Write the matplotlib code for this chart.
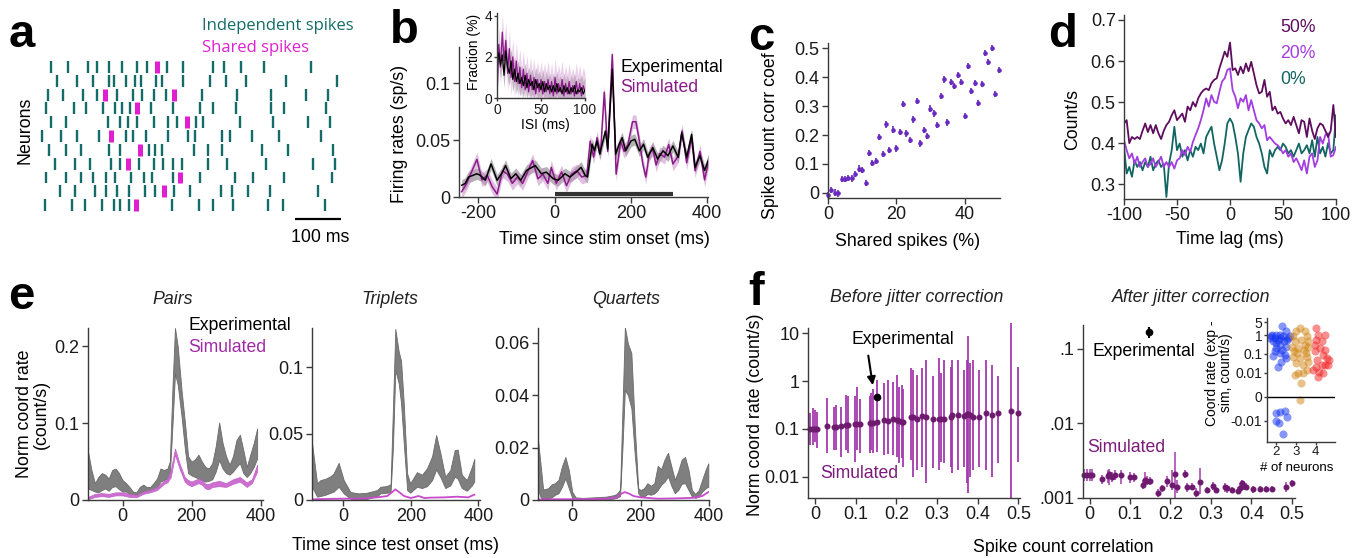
import matplotlib
matplotlib.use("Agg")
import matplotlib.pyplot as plt
import numpy as np

W, H = 1366, 558

TEAL = "#136c67"
MAGENTA = "#e020d0"
PURPLE_B = "#8b1a89"
PURPLE_C = "#6a2ac0"
PURPLE_F = "#6e1a6e"
GRAY = "#7f7f7f"

# ---------------- panel a: raster, spike times (ms) per neuron ----------------
A_INDEPENDENT = [
    [14, 49, 93, 114, 138, 167, 199, 221, 266, 299, 366, 389, 426, 475, 578],
    [25, 69, 104, 138, 150, 176, 196, 209, 241, 254, 299, 359, 393, 437, 523, 634],
    [6, 40, 83, 114, 156, 191, 210, 236, 264, 341, 417, 491, 567, 614],
    [2, 62, 89, 127, 152, 167, 185, 230, 278, 336, 366, 415, 491, 520, 611],
    [13, 46, 136, 162, 180, 199, 236, 267, 286, 328, 344, 424, 496, 572, 620],
    [-7, 35, 70, 117, 176, 192, 219, 267, 310, 325, 384, 402, 449, 509, 600],
    [9, 46, 78, 138, 163, 225, 239, 255, 324, 355, 384, 471, 529, 627],
    [22, 65, 98, 143, 163, 205, 236, 256, 279, 297, 355, 395, 480, 583, 630],
    [2, 46, 78, 105, 133, 152, 187, 215, 232, 279, 337, 413, 453, 520, 623],
    [33, 65, 109, 133, 156, 183, 217, 239, 281, 315, 383, 406, 442, 489, 594],
    [0, 58, 87, 123, 149, 164, 183, 275, 335, 366, 409, 484, 518, 609],
]
A_SHARED = [[243], [], [130, 280], [201], [308], [143], [207], [181], [293], [259], [197]]
A_SCALE_START = 543
A_SCALE_MS = 100

# ---------------- panel b: firing rates ----------------
B_EXP_T = [-244, -235, -226, -204, -195, -182, -167, -151, -137, -129,
           -115, -102, -89, -74, -51, -35, -22, -4, 9, 27,
           40, 56, 69, 80, 86, 98, 104, 111, 118, 133,
           139, 151, 160, 169, 177, 186, 200, 210, 222, 233,
           244, 257, 270, 284, 297, 310, 324, 333, 346, 359,
           368, 381, 393, 404]
B_EXP = [0.0103, 0.0118, 0.0175, 0.0204, 0.019, 0.0147, 0.029, 0.0147, 0.0218, 0.0276,
         0.0161, 0.0204, 0.0147, 0.0233, 0.0276, 0.0204, 0.0218, 0.0161, 0.0147, 0.0204,
         0.0175, 0.0218, 0.0261, 0.019, 0.0175, 0.0463, 0.0405, 0.0491, 0.0376, 0.0578,
         0.042, 0.112, 0.0376, 0.0463, 0.052, 0.0405, 0.0491, 0.0506, 0.0405, 0.0463,
         0.0348, 0.0434, 0.0333, 0.0405, 0.0362, 0.0448, 0.0348, 0.0563, 0.0348, 0.0549,
         0.0261, 0.0362, 0.0233, 0.0333]
B_EXP_SEM = 0.005
B_SIM_T = [-244, -231, -204, -191, -177, -164, -151, -137, -124, -111,
           -98, -84, -71, -58, -44, -31, -18, -9, 4, 18,
           31, 44, 58, 71, 84, 93, 102, 111, 120, 130,
           139, 151, 161, 173, 182, 192, 204, 213, 222, 231,
           239, 248, 257, 266, 275, 288, 299, 310, 324, 334,
           346, 359, 368, 381, 393, 404]
B_SIM = [0.0046, 0.012, 0.033, 0.015, 0.019, 0.009, 0.0026, 0.023, 0.020, 0.012,
         0.0175, 0.012, 0.022, 0.032, 0.016, 0.020, 0.012, 0.026, 0.012, 0.022,
         0.010, 0.020, 0.023, 0.0175, 0.019, 0.049, 0.035, 0.052, 0.038, 0.092,
         0.040, 0.125, 0.020, 0.049, 0.040, 0.046, 0.066, 0.066, 0.049, 0.029,
         0.0175, 0.038, 0.042, 0.028, 0.038, 0.035, 0.046, 0.029, 0.036, 0.058,
         0.030, 0.052, 0.023, 0.040, 0.015, 0.032]
B_SIM_SEM = 0.006
B_STIM_BAR = (0, 310)

# inset: ISI distribution (%)
ISI_T = np.arange(0, 101, 2)
ISI_EXP = [1.4, 2.2, 1.6, 2.1, 1.1, 2.3, 1.5, 1.2, 1.8, 0.9, 1.4, 0.8, 1.2, 0.7, 1.0, 0.6, 1.1,
           0.5, 0.9, 0.6, 0.8, 0.4, 0.9, 0.5, 0.7, 0.4, 0.8, 0.3, 0.7, 0.4, 0.6, 0.3, 0.6, 0.3,
           0.7, 0.3, 0.5, 0.2, 0.6, 0.3, 0.5, 0.2, 0.5, 0.3, 0.6, 0.2, 0.4, 0.3, 0.5, 0.2, 0.4]
ISI_SIM = [0.0, 2.6, 1.5, 3.2, 1.8, 2.8, 1.2, 2.4, 1.0, 2.0, 0.8, 1.8, 0.7, 1.5, 0.5, 1.4, 0.4,
           1.2, 0.3, 1.1, 0.4, 1.0, 0.2, 0.9, 0.3, 0.9, 0.2, 0.8, 0.3, 0.9, 0.2, 0.8, 0.1, 1.0,
           0.2, 0.7, 0.3, 0.9, 0.1, 0.7, 0.2, 0.8, 0.2, 0.6, 0.1, 0.8, 0.2, 0.7, 0.1, 0.6, 0.3]
ISI_EXP_SEM = 0.6
ISI_SIM_SEM = 0.9

# ---------------- panel c: corr coef vs shared spikes ----------------
C_SHARED = np.arange(0, 51)
C_CORR = [-0.008, 0.009, 0.001, -0.002, 0.047, 0.047, 0.052, 0.05, 0.065, 0.084,
          0.079, 0.035, 0.139, 0.104, 0.111, 0.194, 0.134, 0.237, 0.148, 0.219,
          0.154, 0.211, 0.307, 0.206, 0.182, 0.254, 0.318, 0.171, 0.217, 0.196,
          0.292, 0.275, 0.234, 0.336, 0.393, 0.244, 0.385, 0.370, 0.408, 0.385,
          0.266, 0.439, 0.353, 0.381, 0.312, 0.376, 0.485, 0.454, 0.502, 0.342, 0.425]
C_ERR = 0.011

# ---------------- panel d: cross-correlograms ----------------
D_LAG = np.arange(-100, 100.1, 2.5)
D_50 = [0.448, 0.456, 0.40, 0.415, 0.41, 0.415, 0.41, 0.43, 0.448, 0.427,
        0.444, 0.424, 0.444, 0.424, 0.41, 0.43, 0.444, 0.452, 0.468, 0.48,
        0.456, 0.464, 0.472, 0.452, 0.489, 0.48, 0.50, 0.489, 0.509, 0.521,
        0.529, 0.533, 0.529, 0.546, 0.554, 0.558, 0.582, 0.602, 0.623, 0.61,
        0.645, 0.578, 0.582, 0.566, 0.586, 0.57, 0.594, 0.575, 0.598, 0.57,
        0.541, 0.521, 0.525, 0.554, 0.513, 0.525, 0.48, 0.489, 0.472, 0.476,
        0.46, 0.448, 0.456, 0.444, 0.464, 0.444, 0.424, 0.456, 0.452, 0.415,
        0.46, 0.43, 0.41, 0.436, 0.448, 0.444, 0.43, 0.415, 0.43, 0.493, 0.415]
D_20 = [0.407, 0.383, 0.363, 0.375, 0.35, 0.367, 0.342, 0.354, 0.363, 0.342,
        0.35, 0.363, 0.342, 0.354, 0.367, 0.342, 0.354, 0.342, 0.354, 0.338,
        0.358, 0.363, 0.383, 0.371, 0.391, 0.379, 0.403, 0.42, 0.436, 0.456,
        0.48, 0.509, 0.489, 0.517, 0.501, 0.497, 0.525, 0.55, 0.558, 0.578,
        0.582, 0.529, 0.513, 0.485, 0.509, 0.501, 0.517, 0.48, 0.505, 0.48,
        0.456, 0.448, 0.436, 0.444, 0.407, 0.415, 0.407, 0.399, 0.395, 0.387,
        0.375, 0.383, 0.367, 0.375, 0.354, 0.363, 0.35, 0.334, 0.358, 0.326,
        0.367, 0.375, 0.342, 0.358, 0.415, 0.399, 0.42, 0.424, 0.367, 0.371, 0.391]
D_0 = [0.39, 0.326, 0.342, 0.318, 0.358, 0.342, 0.354, 0.334, 0.354, 0.342,
       0.367, 0.334, 0.35, 0.358, 0.342, 0.35, 0.269, 0.35, 0.383, 0.44,
       0.383, 0.399, 0.367, 0.383, 0.358, 0.383, 0.367, 0.391, 0.383, 0.399,
       0.375, 0.415, 0.428, 0.44, 0.399, 0.367, 0.334, 0.358, 0.399, 0.448,
       0.46, 0.448, 0.415, 0.375, 0.306, 0.375, 0.415, 0.432, 0.448, 0.44,
       0.415, 0.399, 0.375, 0.342, 0.326, 0.383, 0.367, 0.383, 0.391, 0.383,
       0.399, 0.391, 0.375, 0.383, 0.367, 0.383, 0.399, 0.375, 0.383, 0.395,
       0.375, 0.407, 0.367, 0.415, 0.375, 0.391, 0.367, 0.40, 0.375, 0.383, 0.468]
D_LABELS = ["50%", "20%", "0%"]
D_COLORS = ["#5e0c5e", "#a23ddf", "#126662"]

# ---------------- panel e: coordinated firing ----------------
E_PAIR_T = [-100, -90, -80, -70, -60, -50, -40, -30, -20, -10, 0, 10, 20, 30, 40, 50, 60, 70, 80,
            90, 100, 110, 120, 130, 137, 145, 152, 160, 171, 181, 190, 200, 210, 220, 230, 240,
            250, 260, 270, 280, 290, 300, 310, 320, 330, 340, 350, 360, 370, 380, 390]
E_PAIR_HI = [0.063, 0.039, 0.022, 0.030, 0.035, 0.033, 0.028, 0.039, 0.041, 0.035, 0.026, 0.022,
             0.017, 0.011, 0.010, 0.017, 0.020, 0.017, 0.017, 0.022, 0.028, 0.041, 0.039, 0.041,
             0.050, 0.150, 0.224, 0.200, 0.143, 0.100, 0.057, 0.050, 0.053, 0.059, 0.050, 0.043,
             0.041, 0.048, 0.070, 0.101, 0.074, 0.057, 0.046, 0.057, 0.078, 0.085, 0.065, 0.043,
             0.059, 0.074, 0.093]
E_PAIR_LO = [0.015, 0.013, 0.011, 0.010, 0.013, 0.015, 0.012, 0.017, 0.018, 0.014, 0.011, 0.011,
             0.008, 0.006, 0.006, 0.008, 0.011, 0.011, 0.012, 0.014, 0.017, 0.024, 0.026, 0.028,
             0.032, 0.100, 0.165, 0.150, 0.109, 0.065, 0.035, 0.032, 0.030, 0.028, 0.026, 0.024,
             0.025, 0.027, 0.037, 0.052, 0.041, 0.035, 0.033, 0.037, 0.043, 0.048, 0.035, 0.030,
             0.035, 0.043, 0.054]
E_PAIR_SIM_T = [-100, -80, -60, -40, -20, 0, 20, 40, 60, 80, 100, 120, 130, 140, 152, 165, 180,
                190, 200, 210, 220, 230, 240, 250, 260, 280, 300, 320, 340, 360, 375, 390]
E_PAIR_SIM_HI = [0.004, 0.008, 0.009, 0.008, 0.010, 0.010, 0.008, 0.0065, 0.011, 0.013, 0.017,
                 0.025, 0.027, 0.039, 0.067, 0.048, 0.030, 0.026, 0.024, 0.026, 0.028, 0.026,
                 0.021, 0.021, 0.023, 0.025, 0.022, 0.027, 0.030, 0.023, 0.027, 0.046]
E_PAIR_SIM_LO = [0.001, 0.004, 0.005, 0.004, 0.006, 0.006, 0.004, 0.0035, 0.008, 0.010, 0.013,
                 0.021, 0.023, 0.030, 0.059, 0.041, 0.024, 0.020, 0.018, 0.020, 0.022, 0.020,
                 0.015, 0.014, 0.017, 0.018, 0.017, 0.021, 0.024, 0.017, 0.022, 0.037]

E_TRIP_T = [-93, -78, -68, -53, -38, -29, -14, 1, 21, 45, 70, 100, 110, 129, 140, 147, 154, 164,
            171, 179, 189, 198, 218, 233, 248, 263, 275, 287, 302, 317, 330, 339, 351, 366, 381, 388]
E_TRIP_HI = [0.043, 0.0126, 0.015, 0.016, 0.018, 0.020, 0.028, 0.015, 0.006, 0.005, 0.0055,
             0.0075, 0.010, 0.0105, 0.012, 0.070, 0.129, 0.112, 0.105, 0.073, 0.020, 0.0126,
             0.021, 0.019, 0.024, 0.033, 0.049, 0.036, 0.0176, 0.0226, 0.0377, 0.038, 0.019,
             0.015, 0.025, 0.031]
E_TRIP_LO = [0.010, 0.0025, 0.003, 0.004, 0.0055, 0.0063, 0.010, 0.005, 0.001, 0.0005, 0.0008,
             0.003, 0.005, 0.0055, 0.006, 0.040, 0.098, 0.088, 0.073, 0.043, 0.0075, 0.0055,
             0.010, 0.009, 0.0105, 0.015, 0.023, 0.0176, 0.009, 0.011, 0.0176, 0.016, 0.009,
             0.007, 0.011, 0.014]
E_TRIP_SIM_T = [-93, -50, 0, 50, 100, 130, 145, 154, 165, 180, 200, 223, 240, 260, 300, 337, 370, 388]
E_TRIP_SIM = [0.0005, 0.0008, 0.001, 0.001, 0.002, 0.003, 0.006, 0.008, 0.006, 0.003, 0.0015,
              0.003, 0.0015, 0.0018, 0.002, 0.0025, 0.002, 0.004]

E_QUAR_T = [-100, -92, -85, -70, -60, -50, -40, -30, -20, -10, 0, 10, 30, 60, 100, 120, 130, 140,
            147, 154, 163, 173, 183, 193, 200, 210, 220, 230, 240, 250, 260, 270, 280, 290, 300,
            310, 320, 330, 340, 350, 360, 370, 380, 390, 398]
E_QUAR_HI = [0.023, 0.013, 0.004, 0.0045, 0.006, 0.0064, 0.0077, 0.0128, 0.0164, 0.0115, 0.0032,
             0.001, 0.0008, 0.001, 0.0013, 0.0018, 0.0023, 0.004, 0.035, 0.066, 0.0596, 0.056,
             0.028, 0.0045, 0.0038, 0.0045, 0.0064, 0.0054, 0.0064, 0.013, 0.0118, 0.0154, 0.018,
             0.0128, 0.0077, 0.011, 0.0154, 0.0164, 0.0115, 0.0038, 0.0023, 0.0038, 0.0077,
             0.0115, 0.014]
E_QUAR_LO = [0.004, 0.001, 0.0005, 0.0006, 0.001, 0.002, 0.0026, 0.005, 0.0083, 0.0045, 0.0008,
             0.0003, 0.0002, 0.0002, 0.0003, 0.0005, 0.0008, 0.0015, 0.020, 0.042, 0.040, 0.035,
             0.017, 0.0026, 0.0013, 0.0013, 0.0023, 0.002, 0.0025, 0.0038, 0.0058, 0.007, 0.009,
             0.0054, 0.0026, 0.0038, 0.0062, 0.0064, 0.0038, 0.0013, 0.0008, 0.0013, 0.0032,
             0.0045, 0.005]
E_QUAR_SIM_T = [-100, -50, 0, 50, 100, 130, 145, 154, 165, 180, 200, 250, 300, 350, 380, 398]
E_QUAR_SIM = [0.0002, 0.0003, 0.0003, 0.0003, 0.0005, 0.001, 0.0025, 0.003, 0.0025, 0.0015,
              0.001, 0.0005, 0.0006, 0.0008, 0.0015, 0.003]

# ---------------- panel f: coordination vs correlation ----------------
F_BEFORE_X = [-0.012, -0.006, 0.0, 0.006, 0.030, 0.047, 0.051, 0.063, 0.076, 0.082, 0.098, 0.104,
              0.111, 0.134, 0.138, 0.143, 0.152, 0.170, 0.180, 0.191, 0.202, 0.207, 0.213, 0.217,
              0.235, 0.240, 0.252, 0.262, 0.273, 0.289, 0.305, 0.310, 0.316, 0.334, 0.338, 0.352,
              0.367, 0.373, 0.377, 0.381, 0.389, 0.404, 0.42, 0.434, 0.449, 0.482, 0.5]
F_BEFORE_Y = [0.1, 0.1, 0.1, 0.1, 0.117, 0.112, 0.112, 0.117, 0.121, 0.121, 0.127, 0.127, 0.127,
              0.131, 0.131, 0.136, 0.138, 0.154, 0.149, 0.159, 0.154, 0.147, 0.142, 0.142, 0.176,
              0.176, 0.159, 0.19, 0.181, 0.162, 0.162, 0.162, 0.162, 0.176, 0.196, 0.196, 0.19,
              0.203, 0.203, 0.196, 0.181, 0.181, 0.22, 0.196, 0.213, 0.238, 0.213]
F_BEFORE_HI = [0.213, 0.271, 0.25, 0.231, 0.439, 0.293, 0.318, 0.293, 0.515, 0.49, 0.49, 0.745,
               0.418, 0.49, 0.559, 0.676, 1.06, 0.90, 1.06, 0.98, 1.35, 0.77, 0.83, 0.676, 1.86,
               1.72, 1.35, 1.86, 2.78, 1.25, 3.0, 1.46, 2.78, 2.0, 2.78, 2.78, 1.72, 2.78, 8.6,
               2.36, 2.78, 1.72, 2.78, 2.17, 1.25, 16.2, 2.0]
F_BEFORE_LO = [0.0463, 0.0463, 0.0543, 0.0394, 0.031, 0.0364, 0.0364, 0.0264, 0.0364, 0.032,
               0.0207, 0.0364, 0.031, 0.032, 0.0364, 0.031, 0.0335, 0.0286, 0.030, 0.0286, 0.0264,
               0.0191, 0.0243, 0.0163, 0.0224, 0.0101, 0.0139, 0.0163, 0.0073, 0.015, 0.0139,
               0.0207, 0.0191, 0.0163, 0.0118, 0.0139, 0.0163, 0.0073, 0.0045, 0.0101, 0.0139,
               0.0163, 0.0139, 0.0101, 0.0191, 0.0035, 0.0207]
F_BEFORE_EXP = (0.152, 0.475, 0.42, 0.54)

F_AFTER_X = [-0.013, -0.007, 0.0, 0.006, 0.030, 0.045, 0.049, 0.055, 0.063, 0.078, 0.099, 0.110,
             0.132, 0.137, 0.143, 0.150, 0.170, 0.179, 0.191, 0.203, 0.212, 0.217, 0.236, 0.240,
             0.253, 0.263, 0.272, 0.290, 0.306, 0.313, 0.335, 0.339, 0.351, 0.368, 0.372, 0.376,
             0.382, 0.388, 0.405, 0.421, 0.436, 0.452, 0.486, 0.501]
F_AFTER_Y = [0.00202, 0.00202, 0.00202, 0.00202, 0.00176, 0.00195, 0.00208, 0.00192, 0.00202,
             0.00202, 0.00188, 0.00188, 0.00148, 0.00173, 0.00169, 0.00169, 0.00114, 0.00134,
             0.00169, 0.00148, 0.00208, 0.00141, 0.00208, 0.00141, 0.00141, 0.00117, 0.00164,
             0.00127, 0.00143, 0.00127, 0.00138, 0.00134, 0.00127, 0.00124, 0.00134, 0.00159,
             0.00143, 0.00141, 0.00129, 0.00132, 0.00132, 0.00132, 0.00138, 0.00159]
F_AFTER_HI = [0.0024, 0.0024, 0.0024, 0.0024, 0.00202, 0.00236, 0.0024, 0.00224, 0.00236,
              0.00236, 0.00224, 0.00217, 0.00173, 0.00224, 0.00195, 0.00192, 0.00129, 0.00148,
              0.00195, 0.00236, 0.00416, 0.00173, 0.00236, 0.00159, 0.00159, 0.00134, 0.00248,
              0.00141, 0.00164, 0.00141, 0.00159, 0.00148, 0.00141, 0.00141, 0.00159, 0.00173,
              0.00164, 0.00159, 0.00143, 0.00143, 0.00143, 0.00143, 0.00161, 0.00173]
F_AFTER_LO = [0.00169, 0.00169, 0.00169, 0.00169, 0.00153, 0.00159, 0.00148, 0.00164, 0.00173,
              0.00153, 0.00159, 0.00164, 0.00129, 0.00148, 0.00148, 0.00148, 0.00103, 0.0012,
              0.00141, 0.00127, 0.001, 0.00114, 0.00182, 0.0012, 0.00129, 0.00103, 0.00112,
              0.00114, 0.00127, 0.00114, 0.0012, 0.00117, 0.00114, 0.00112, 0.00117, 0.00138,
              0.00127, 0.00127, 0.00117, 0.00119, 0.00119, 0.00119, 0.00119, 0.00138]
F_AFTER_EXP = (0.148, 0.171, 0.139, 0.2)

# inset: exp - sim coordination per group size
F_IN_BLUE_X = [1.75, 1.92, 2.0, 2.17, 2.31, 2.47, 1.83, 2.08, 2.2, 2.37, 2.59, 1.66, 1.97, 2.31,
               2.51, 1.83, 2.17, 2.47, 2.08, 2.25, 2.56, 2.0, 1.92, 2.42, 2.68, 1.8, 2.34, 2.17,
               2.0, 2.17, 2.42, 1.97, 2.14, 2.34, 2.54]
F_IN_BLUE_Y = [0.88, 0.72, 1.09, 1.09, 3.3, 1.64, 0.47, 0.54, 0.31, 0.47, 0.72, 0.72, 0.21, 0.17,
               0.25, 0.079, 0.11, 0.06, 0.021, 0.039, 0.58, 0.39, 0.14, 0.09, 0.88, 1.09, 0.88,
               0.72, -0.0069, -0.0063, -0.0058, -0.010, -0.0128, -0.048, -0.0083]
F_IN_ORANGE_X = [2.85, 3.02, 3.19, 3.44, 2.93, 3.27, 3.53, 3.61, 2.81, 3.1, 3.39, 2.85, 3.19, 3.53,
                 2.98, 3.36, 3.61, 2.93, 3.1, 3.36, 3.53, 3.27, 3.19, 3.44, 3.05, 2.88, 3.49, 3.61]
F_IN_ORANGE_Y = [0.88, 1.64, 2.5, 1.64, 0.47, 0.58, 0.88, 0.47, 0.25, 0.21, 0.17, 0.073, 0.06,
                 0.067, 0.032, 0.026, 0.039, 0.009, 0.0097, 0.0097, 0.014, 0.0056, -0.0014, 0.31,
                 0.11, 0.14, 0.11, 0.25]
F_IN_RED_X = [4.03, 4.12, 4.0, 4.2, 4.29, 4.46, 3.95, 4.37, 4.54, 4.68, 4.07, 4.29, 4.03, 3.86,
              4.17, 4.46, 4.37, 4.12, 4.63, 3.95, 4.46]
F_IN_RED_Y = [2.5, 1.09, 0.58, 0.21, 0.47, 0.17, 0.14, 0.09, 0.06, 0.048, 0.048, 0.026, 0.021,
              0.014, 0.011, 0.026, 0.0097, 0.0083, 0.026, 0.31, 1.09]

TICK_FS = 13
LABEL_FS = 12.8


def add_px_axes(fig, left, top, right, bottom):
    return fig.add_axes([left / W, 1 - bottom / H, (right - left) / W, (bottom - top) / H])


def ftext(fig, x, y, s, **kw):
    kw.setdefault("va", "center")
    return fig.text(x / W, 1 - y / H, s, **kw)


def style_axes(ax, labelsize=TICK_FS, length=4):
    for side in ("top", "right"):
        ax.spines[side].set_visible(False)
    for side in ("left", "bottom"):
        ax.spines[side].set_color("#3a3a3a")
        ax.spines[side].set_linewidth(1.0)
    ax.tick_params(direction="out", length=length, width=1, colors="#3a3a3a",
                   labelcolor="#1a1a1a", labelsize=labelsize, pad=2)
    ax.tick_params(which="minor", length=0)
    ax.set_facecolor("none")


def panel_letter(fig, x, y, s):
    ftext(fig, x, y, s, fontsize=34, fontweight="bold", va="baseline", ha="left")


def draw_raster(fig):
    ax = add_px_axes(fig, 40, 58, 345, 215)
    for row, spikes in enumerate(A_INDEPENDENT, start=1):
        ax.vlines(spikes, row - 0.43, row + 0.43, color=TEAL, lw=1.7)
    for row, spikes in enumerate(A_SHARED, start=1):
        if spikes:
            ax.vlines(spikes, row - 0.43, row + 0.43, color=MAGENTA, lw=3.6)
    ax.set_xlim(-10.9, 652)
    ax.set_ylim(11.72, 0.348)
    ax.axis("off")
    ax.plot([A_SCALE_START, A_SCALE_START + A_SCALE_MS], [12.01, 12.01], color="k", lw=1.6,
            clip_on=False, solid_capstyle="butt")
    ftext(fig, 320, 238, f"{A_SCALE_MS} ms", fontsize=LABEL_FS, ha="center")
    ftext(fig, 25, 130, "Neurons", fontsize=LABEL_FS, rotation=90, ha="center")
    ftext(fig, 202, 26, "Independent spikes", fontsize=12, color=TEAL, ha="left",
          family=["Open Sans", "DejaVu Sans"])
    ftext(fig, 202, 48, "Shared spikes", fontsize=12, color=MAGENTA, ha="left",
          family=["Open Sans", "DejaVu Sans"])
    panel_letter(fig, 9, 47, "a")


def draw_rates(fig):
    ax = add_px_axes(fig, 459, 47, 708, 197)
    style_axes(ax)
    exp = np.array(B_EXP)
    sim = np.array(B_SIM)
    ax.fill_between(B_EXP_T, exp - B_EXP_SEM, exp + B_EXP_SEM, color="#9a9a9a", alpha=0.75, lw=0)
    ax.fill_between(B_SIM_T, sim - B_SIM_SEM, sim + B_SIM_SEM, color="#c98cc8", alpha=0.55, lw=0)
    ax.plot(B_SIM_T, sim, color=PURPLE_B, lw=1.1)
    ax.plot(B_EXP_T, exp, color="k", lw=1.1)
    ax.plot(B_STIM_BAR, [0.003, 0.003], color="#333333", lw=3, solid_capstyle="butt")
    ax.set_xlim(-251, 402)
    ax.set_ylim(0, 0.1316)
    ax.set_xticks([-200, 0, 200, 400], ["-200", "0", "200", "400"])
    ax.set_yticks([0, 0.05, 0.1], ["0", "0.05", "0.1"])
    ftext(fig, 400, 134, "Firing rates (sp/s)", fontsize=LABEL_FS, rotation=90, ha="center")
    ftext(fig, 604, 239, "Time since stim onset (ms)", fontsize=LABEL_FS, ha="center")
    ftext(fig, 620, 67, "Experimental", fontsize=12.7, ha="left")
    ftext(fig, 620, 87, "Simulated", fontsize=12.7, ha="left", color=PURPLE_B)

    ins = add_px_axes(fig, 497, 13, 585, 98)
    style_axes(ins, labelsize=10, length=2)
    ins.tick_params(pad=1.5)
    ie = np.array(ISI_EXP)
    isim = np.array(ISI_SIM)
    ins.fill_between(ISI_T, np.clip(ie - ISI_EXP_SEM, 0, None), ie + ISI_EXP_SEM,
                     color="#a0a0a0", alpha=0.7, lw=0)
    ins.fill_between(ISI_T, np.clip(isim - ISI_SIM_SEM, 0, None), isim + ISI_SIM_SEM,
                     color="#d9a3d8", alpha=0.5, lw=0)
    ins.plot(ISI_T, isim, color=PURPLE_B, lw=0.9)
    ins.plot(ISI_T, ie, color="k", lw=0.9)
    ins.set_xlim(0, 100)
    ins.set_ylim(0, 4.13)
    ins.set_xticks([0, 50, 100], ["0", "50", "100"])
    ins.set_yticks([0, 2, 4], ["0", "2", "4"])
    ftext(fig, 474, 52, "Fraction (%)", fontsize=10, rotation=90, ha="center")
    ftext(fig, 545, 125, "ISI (ms)", fontsize=10, ha="center")
    panel_letter(fig, 390, 43, "b")


def draw_corr(fig):
    ax = add_px_axes(fig, 828, 43, 1000, 198)
    style_axes(ax)
    ax.errorbar(C_SHARED, C_CORR, yerr=C_ERR, fmt="o", ms=2.3, color=PURPLE_C,
                elinewidth=1.2, capsize=0, clip_on=False)
    ax.set_xlim(0, 50.4)
    ax.set_ylim(-0.018, 0.519)
    ax.set_xticks([0, 20, 40], ["0", "20", "40"])
    ax.set_yticks([0, 0.1, 0.2, 0.3, 0.4, 0.5], ["0", "0.1", "0.2", "0.3", "0.4", "0.5"])
    ftext(fig, 770, 136, "Spike count corr coef", fontsize=LABEL_FS, rotation=90, ha="center")
    ftext(fig, 908, 242, "Shared spikes (%)", fontsize=LABEL_FS, ha="center")
    panel_letter(fig, 748, 50, "c")


def draw_ccg(fig):
    ax = add_px_axes(fig, 1124, 15, 1336, 199)
    style_axes(ax)
    for vals, col in zip([D_0, D_20, D_50], D_COLORS[::-1]):
        ax.plot(D_LAG, vals, color=col, lw=1.3)
    ax.set_xlim(-100, 100)
    ax.set_ylim(0.264, 0.712)
    ax.set_xticks([-100, -50, 0, 50, 100], ["-100", "-50", "0", "50", "100"])
    ax.set_yticks([0.3, 0.4, 0.5, 0.6, 0.7], ["0.3", "0.4", "0.5", "0.6", "0.7"])
    for label, col, y in zip(D_LABELS, D_COLORS, [28, 53, 80]):
        ftext(fig, 1280, y, label, fontsize=12.7, color=col, ha="left")
    ftext(fig, 1073, 119, "Count/s", fontsize=LABEL_FS, rotation=90, ha="center")
    ftext(fig, 1230, 239, "Time lag (ms)", fontsize=LABEL_FS, ha="center")
    panel_letter(fig, 1048, 47, "d")


def coord_axes(fig, left, right, xlim, ylim, yticks, ylabels, title, title_x):
    ax = add_px_axes(fig, left, 328, right, 500)
    style_axes(ax)
    ax.set_xlim(*xlim)
    ax.set_ylim(*ylim)
    ax.set_xticks([0, 200, 400], ["0", "200", "400"])
    ax.set_yticks(yticks, ylabels)
    ftext(fig, title_x, 299, title, fontsize=LABEL_FS, style="italic", ha="center",
          color="#222222")
    return ax


def gray_band(ax, t, lo, hi):
    ax.fill_between(t, lo, hi, color=GRAY, lw=0.6, edgecolor="#6a6a6a")


def draw_coord(fig):
    ax = coord_axes(fig, 88, 263, (-100, 407), (0, 0.224), [0, 0.1, 0.2],
                    ["0", "0.1", "0.2"], "Pairs", 173)
    gray_band(ax, E_PAIR_T, E_PAIR_LO, E_PAIR_HI)
    ax.fill_between(E_PAIR_SIM_T, E_PAIR_SIM_LO, E_PAIR_SIM_HI, color="#cc6fd0", lw=0.5,
                    edgecolor="#c060c8")

    ax = coord_axes(fig, 312, 480, (-93, 405), (0, 0.1297), [0, 0.05, 0.1],
                    ["0", "0.05", "0.1"], "Triplets", 390)
    gray_band(ax, E_TRIP_T, E_TRIP_LO, E_TRIP_HI)
    ax.plot(E_TRIP_SIM_T, E_TRIP_SIM, color="#c94acc", lw=1.3)

    ax = coord_axes(fig, 538, 709, (-100, 400), (0, 0.0656), [0, 0.02, 0.04, 0.06],
                    ["0", "0.02", "0.04", "0.06"], "Quartets", 626)
    gray_band(ax, E_QUAR_T, E_QUAR_LO, E_QUAR_HI)
    ax.plot(E_QUAR_SIM_T, E_QUAR_SIM, color="#c94acc", lw=1.3)

    ftext(fig, 188, 326, "Experimental", fontsize=12.7, ha="left")
    ftext(fig, 188, 347, "Simulated", fontsize=12.7, ha="left", color="#a02aa6")
    ftext(fig, 33, 414, "Norm coord rate\n(count/s)", fontsize=LABEL_FS, rotation=90,
          ha="center", multialignment="center", linespacing=0.95)
    ftext(fig, 396, 546, "Time since test onset (ms)", fontsize=LABEL_FS, ha="center")
    panel_letter(fig, 8, 309, "e")


def sim_errorbars(ax, x, y, lo, hi, lw):
    y = np.array(y)
    yerr = np.vstack([y - np.array(lo), np.array(hi) - y])
    ax.errorbar(x, y, yerr=yerr, fmt="o", ms=3.3, color=PURPLE_F, ecolor="#a43aae",
                elinewidth=lw, capsize=0, clip_on=False)


def draw_jitter(fig):
    ax = add_px_axes(fig, 808, 328, 1020, 498)
    style_axes(ax)
    ax.set_yscale("log")
    sim_errorbars(ax, F_BEFORE_X, F_BEFORE_Y, F_BEFORE_LO, F_BEFORE_HI, 1.3)
    ex, ey, elo, ehi = F_BEFORE_EXP
    ax.errorbar([ex], [ey], yerr=[[ey - elo], [ehi - ey]], fmt="o", ms=4.5, color="k",
                elinewidth=1.5, capsize=0)
    ax.set_xlim(-0.0172, 0.504)
    ax.set_ylim(0.0036, 12.9)
    ax.set_xticks([0, 0.1, 0.2, 0.3, 0.4, 0.5], ["0", "0.1", "0.2", "0.3", "0.4", "0.5"])
    ax.set_yticks([0.01, 0.1, 1, 10], ["0.01", "0.1", "1", "10"])
    ax.annotate("", xy=(0.143, 0.72), xytext=(0.130, 3.9),
                arrowprops=dict(arrowstyle="-|>", color="k", lw=1.5, mutation_scale=12))
    ftext(fig, 903, 340, "Experimental", fontsize=12.7, ha="center")
    ftext(fig, 820, 473, "Simulated", fontsize=12.7, ha="left", color="#7a1a7a")
    ftext(fig, 917, 298, "Before jitter correction", fontsize=LABEL_FS, style="italic",
          ha="center", color="#222222")

    ax = add_px_axes(fig, 1083, 325, 1295, 498)
    style_axes(ax)
    ax.set_yscale("log")
    sim_errorbars(ax, F_AFTER_X, F_AFTER_Y, F_AFTER_LO, F_AFTER_HI, 1.1)
    ex, ey, elo, ehi = F_AFTER_EXP
    ax.errorbar([ex], [ey], yerr=[[ey - elo], [ehi - ey]], fmt="o", ms=4.5, color="k",
                elinewidth=1.5, capsize=0)
    ax.set_xlim(-0.0163, 0.508)
    ax.set_ylim(0.00099, 0.21)
    ax.set_xticks([0, 0.1, 0.2, 0.3, 0.4, 0.5], ["0", "0.1", "0.2", "0.3", "0.4", "0.5"])
    ax.set_yticks([0.001, 0.01, 0.1], [".001", ".01", ".1"])
    ftext(fig, 1092, 351, "Experimental", fontsize=12.7, ha="left")
    ftext(fig, 1087, 448, "Simulated", fontsize=12.7, ha="left", color="#7a1a7a")
    ftext(fig, 1191, 298, "After jitter correction", fontsize=LABEL_FS, style="italic",
          ha="center", color="#222222")

    ins = add_px_axes(fig, 1267, 318, 1335, 442)
    style_axes(ins, labelsize=10, length=2.5)
    ins.tick_params(axis="x", pad=0.5, labelsize=9.5)
    ins.tick_params(axis="y", pad=1)
    ins.set_yscale("symlog", linthresh=0.01, linscale=1.17)
    ins.axhline(0, color="k", lw=1)
    for xs, ys, col in [(F_IN_BLUE_X, F_IN_BLUE_Y, "#1030f0"),
                        (F_IN_ORANGE_X, F_IN_ORANGE_Y, "#d08414"),
                        (F_IN_RED_X, F_IN_RED_Y, "#f02020")]:
        ins.scatter(xs, ys, s=34, color=col, alpha=0.5, linewidths=0)
    ins.set_xlim(1.53, 4.97)
    ins.set_ylim(-0.136, 8.6)
    ins.set_xticks([2, 3, 4], ["2", "3", "4"])
    ins.set_yticks([-0.01, 0, 0.01, 0.1, 1, 5], ["-0.01", "0", "0.01", "0.1", "1", "5"])
    ins.yaxis.set_minor_locator(matplotlib.ticker.NullLocator())
    ftext(fig, 1219, 373, "Coord rate (exp -\nsim, count/s)", fontsize=10, rotation=90,
          ha="center", multialignment="center", linespacing=0.95)
    ftext(fig, 1297, 468, "# of neurons", fontsize=9.5, ha="center")

    ftext(fig, 755, 415, "Norm coord rate (count/s)", fontsize=LABEL_FS, rotation=90, ha="center")
    ftext(fig, 1063, 547, "Spike count correlation", fontsize=LABEL_FS, ha="center")
    panel_letter(fig, 748, 305, "f")


def main():
    plt.rcParams["font.family"] = ["Liberation Sans", "DejaVu Sans"]
    fig = plt.figure(figsize=(W / 100, H / 100), dpi=100)
    draw_raster(fig)
    draw_rates(fig)
    draw_corr(fig)
    draw_ccg(fig)
    draw_coord(fig)
    draw_jitter(fig)
    fig.savefig("out.png", dpi=100)
    plt.close(fig)


if __name__ == "__main__":
    main()
